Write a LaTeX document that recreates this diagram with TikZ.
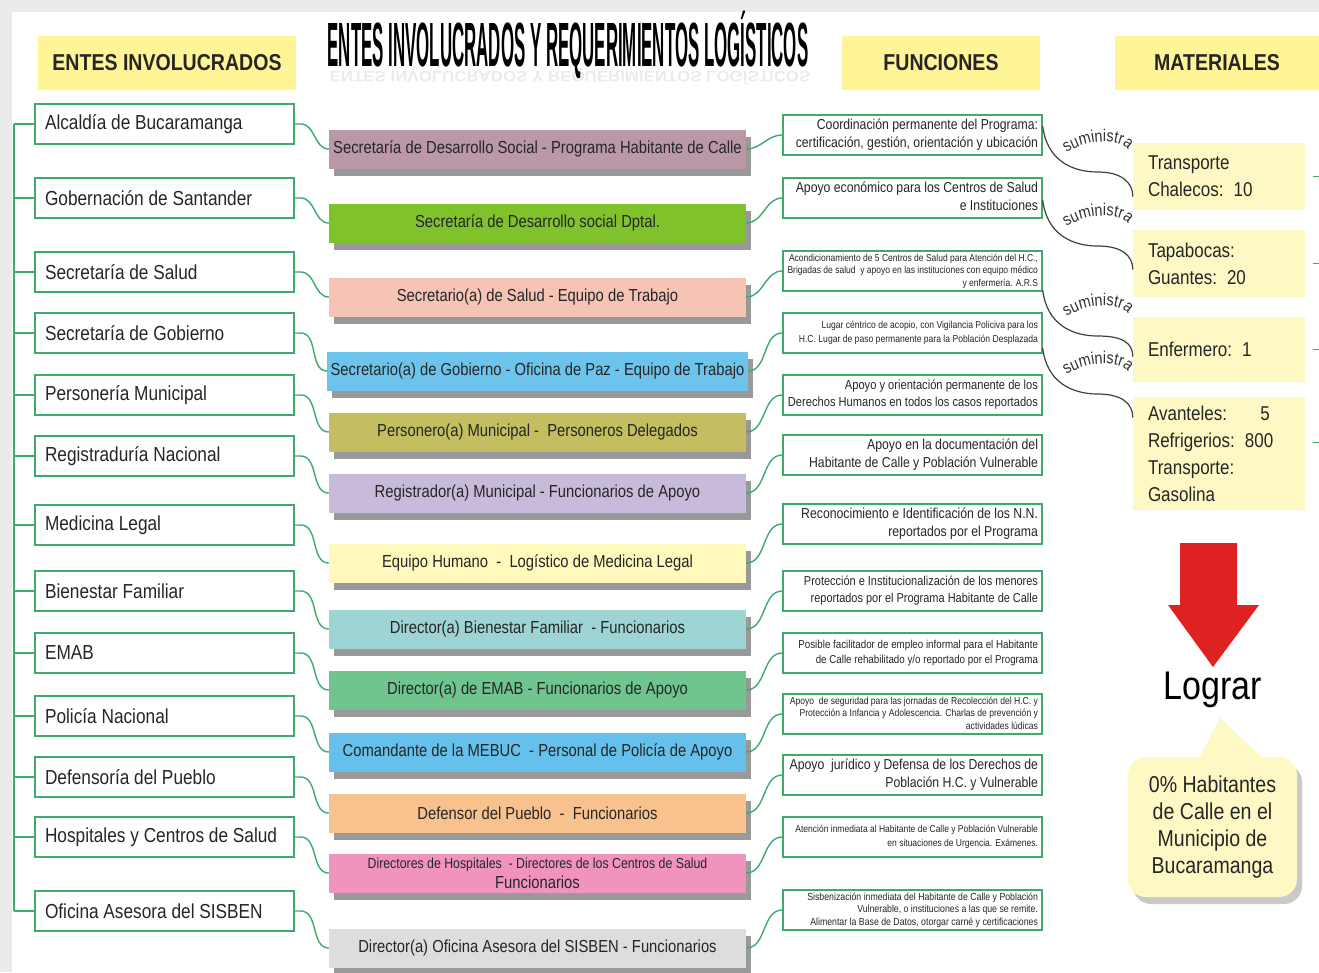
\documentclass[tikz,border=0pt]{standalone}
\usepackage{fontspec}
\setmainfont{Liberation Sans}[FakeStretch=0.85]
\usepackage{graphicx}
\usetikzlibrary{calc,shadows,decorations.text}

\definecolor{linea}{RGB}{62,170,110}
\definecolor{cabeza}{RGB}{255,244,150}
\definecolor{crema}{RGB}{254,249,196}
\definecolor{rojo}{RGB}{222,33,33}
\definecolor{malva}{RGB}{186,152,168}
\definecolor{lima}{RGB}{128,194,44}
\definecolor{salmon}{RGB}{245,196,180}
\definecolor{celeste}{RGB}{108,196,236}
\definecolor{oliva}{RGB}{196,190,96}
\definecolor{lila}{RGB}{200,186,218}
\definecolor{vainilla}{RGB}{255,250,188}
\definecolor{turquesa}{RGB}{158,212,212}
\definecolor{menta}{RGB}{112,196,142}
\definecolor{azul}{RGB}{102,192,236}
\definecolor{durazno}{RGB}{248,194,142}
\definecolor{rosa}{RGB}{240,148,190}
\definecolor{perla}{RGB}{221,221,221}

\newcommand\derecha[1]{\makebox[251pt][r]{\begin{tabular}{@{}r@{}}#1\end{tabular}}}

\begin{document}
\begin{tikzpicture}[x=1pt,y=-1pt]
\tikzset{cabecera/.style = {fill=cabeza, minimum height=54pt, font=\fontsize{23}{25}\selectfont\bfseries, text=black!85}}
\tikzset{ente/.style = {draw=linea, line width=1.4pt, fill=white, minimum height=40pt, inner xsep=10pt, font=\fontsize{20.3}{22}\selectfont, text=black!85}}
\tikzset{cargo/.style = {minimum width=417pt, minimum height=39pt, align=center, font=\fontsize{17.4}{20}\selectfont, text=black!85, drop shadow={shadow xshift=5pt, shadow yshift=-7pt, fill=black!50, opacity=.8}}}
\tikzset{funcion/.style = {draw=linea, line width=1.4pt, fill=white, minimum height=40pt, inner xsep=4pt, inner ysep=1pt, text=black!85}}
\tikzset{material/.style = {fill=crema, text width=142pt, inner xsep=15pt, align=left, font=\fontsize{20}{27}\selectfont, text=black!85}}
\tikzset{link/.style = {draw=linea, line width=1.4pt}}
\tikzset{onda/.style = {draw=black!75, line width=1.2pt}}

\useasboundingbox (0,0) rectangle (1319,972);
\fill[black!8] (0,0) rectangle (1319,972);
\fill[white] (12,12) rectangle (1319,972);

% titulo y cabeceras
\node (titulo) at (568,45) {\scalebox{0.397}[1.25]{\fontsize{50}{50}\selectfont\bfseries ENTES INVOLUCRADOS Y REQUERIMIENTOS LOGÍSTICOS}};
\node[opacity=.08] (reflejo) at (570,77) {\scalebox{0.397}[-0.3]{\fontsize{50}{50}\selectfont\bfseries ENTES INVOLUCRADOS Y REQUERIMIENTOS LOGÍSTICOS}};
\node[cabecera, minimum width=258pt] (hEntes) at (167,63) {ENTES INVOLUCRADOS};
\node[cabecera, minimum width=198pt] (hFunc) at (941,63) {FUNCIONES};
\node[cabecera, minimum width=204pt] (hMat) at (1217,63) {MATERIALES};

\coordinate (lomo) at (14,0);
\coordinate (borde) at (1319,0);

\foreach \y/\name/\txt in {124/l1/{Alcaldía de Bucaramanga}, 198/l2/{Gobernación de Santander}, 272/l3/{Secretaría de Salud}, 333/l4/{Secretaría de Gobierno}, 395/l5/{Personería Municipal}, 456/l6/{Registraduría Nacional}, 525/l7/{Medicina Legal}, 591/l8/{Bienestar Familiar}, 653/l9/{EMAB}, 716/l10/{Policía Nacional}, 777/l11/{Defensoría del Pueblo}, 837/l12/{Hospitales y Centros de Salud}, 911/l13/{Oficina Asesora del SISBEN}}
\node[ente] (\name) at (164.5,\y) {\makebox[239pt][l]{\txt}};

\foreach \y/\name/\col/\txt in {149/m1/malva/{Secretaría de Desarrollo Social - Programa Habitante de Calle}, 223/m2/lima/{Secretaría de Desarrollo social Dptal.}, 297/m3/salmon/{Secretario(a) de Salud - Equipo de Trabajo}, 371/m4/celeste/{Secretario(a) de Gobierno - Oficina de Paz - Equipo de Trabajo}, 432/m5/oliva/{Personero(a) Municipal -\ \ Personeros Delegados}, 493/m6/lila/{Registrador(a) Municipal - Funcionarios de Apoyo}, 563/m7/vainilla/{Equipo Humano\ \ -\ \ Logístico de Medicina Legal}, 629/m8/turquesa/{Director(a) Bienestar Familiar\ \ - Funcionarios}, 690/m9/menta/{Director(a) de EMAB - Funcionarios de Apoyo}, 752/m10/azul/{Comandante de la MEBUC\ \ - Personal de Policía de Apoyo}, 813/m11/durazno/{Defensor del Pueblo\ \ -\ \ Funcionarios}, 873/m12/rosa/{\fontsize{14.5}{18}\selectfont Directores de Hospitales\ \ - Directores de los Centros de Salud\\Funcionarios}, 948/m13/perla/{Director(a) Oficina Asesora del SISBEN - Funcionarios}}
\node[cargo, fill=\col] (\name) at (537.5,\y) {\txt};

\foreach \y/\name/\fs/\bs/\txt in {135/f1/14.4/18/{Coordinación permanente del Programa:\\certificación, gestión, orientación y ubicación}, 198/f2/14.4/18/{Apoyo económico para los Centros de Salud\\e Instituciones}, 271/f3/10/12.5/{Acondicionamiento de 5 Centros de Salud para Atención del H.C.,\\Brigadas de salud\ \ y apoyo en las instituciones con equipo médico\\y enfermería. A.R.S}, 333/f4/10.1/13.5/{Lugar céntrico de acopio, con Vigilancia Policiva para los\\H.C. Lugar de paso permanente para la Población Desplazada}, 395/f5/13.1/17/{Apoyo y orientación permanente de los\\Derechos Humanos en todos los casos reportados}, 455/f6/14.4/18/{Apoyo en la documentación del\\Habitante de Calle y Población Vulnerable}, 524/f7/14.4/18/{Reconocimiento e Identificación de los N.N.\\reportados por el Programa}, 591/f8/12.9/17/{Protección e Institucionalización de los menores\\reportados por el Programa Habitante de Calle}, 653/f9/11.5/15/{Posible facilitador de empleo informal para el Habitante\\de Calle rehabilitado y/o reportado por el Programa}, 714/f10/10.1/12.5/{Apoyo\ \ de seguridad para las jornadas de Recolección del H.C. y\\Protección a Infancia y Adolescencia. Charlas de prevención y\\actividades lúdicas}, 775/f11/14.4/18/{Apoyo\ \ jurídico y Defensa de los Derechos de\\Población H.C. y Vulnerable}, 837/f12/10/13.5/{Atención inmediata al Habitante de Calle y Población Vulnerable\\en situaciones de Urgencia. Exámenes.}, 910/f13/10.3/12.5/{Sisbenización inmediata del Habitante de Calle y Población\\Vulnerable, o instituciones a las que se remite.\\Alimentar la Base de Datos, otorgar carné y certificaciones}}
\node[funcion, font=\fontsize{\fs}{\bs}\selectfont] (\name) at (912.5,\y) {\derecha{\txt}};

% materiales
\node[material, minimum height=67pt] (mat1) at (1219,176.5) {Transporte\\Chalecos: 10};
\node[material, minimum height=67pt] (mat2) at (1219,263.5) {Tapabocas:\\Guantes: 20};
\node[material, minimum height=65pt] (mat3) at (1219,349.5) {Enfermero: 1};
\node[material, minimum height=113pt] (mat4) at (1219,453.5) {Avanteles:\quad\ \ 5\\Refrigerios: 800\\Transporte:\\Gasolina};

% conectores
\draw[link] (l1.west -| lomo) -- (l13.west -| lomo);
\foreach \i in {1,...,13}{
\draw[link] (l\i.west) -- (l\i.west -| lomo);
\draw[link] (l\i.east) -- ++(6,0) to[out=0,in=180] (m\i.west);
\draw[link] (m\i.east) to[out=0,in=180] (f\i.west);
}
\foreach \m/\dy in {mat1/0, mat2/0, mat3/0, mat4/11}
\draw[link] ([xshift=8pt,yshift=\dy pt]\m.east) -- ([yshift=\dy pt]\m.east -| borde);

\foreach \f/\fy/\m/\my in {f1/9/mat1/-20, f2/-2/mat2/-6, f3/-19/mat3/-7, f4/-15/mat4/36}{
\path ([yshift=\fy pt]\f.east) coordinate (a) ([yshift=\my pt]\m.west) coordinate (b);
\draw[onda] (a) .. controls +(4,34) and +(-26,0) .. ($(a)+(55,46)$) .. controls +(24,0) and +(0,-14) .. (b);
\path[decorate, decoration={text along path, text align=left, text color=black!80, text={|\fontsize{17}{17}\selectfont|suministra}}] ($(a)+(24,27)$) .. controls +(16,-12) and +(-14,-6) .. ($(a)+(80,19)$) .. controls +(6,3) and +(-2,-8) .. ($(a)+(94,40)$);
}

% lograr
\fill[rojo] (1180,543) -- (1237,543) -- (1237,605) -- (1259,605) -- (1213,667) -- (1168,605) -- (1180,605) -- cycle;
\node (lograr) at (1213,690) {\fontsize{40}{40}\selectfont Lograr};
\coordinate (punta) at (1220,718);
\node[fill=crema, rounded corners=18pt, minimum width=169pt, minimum height=140pt, align=center, font=\fontsize{23}{27}\selectfont, text=black!85, drop shadow={shadow xshift=5pt, shadow yshift=-7pt, fill=black!35, opacity=.6}] (meta) at (1212.5,827) {0\% Habitantes\\de Calle en el\\Municipio de\\Bucaramanga};
\fill[crema] ([xshift=-16pt,yshift=-6pt]meta.north) -- (punta) -- ([xshift=55pt,yshift=-6pt]meta.north) -- cycle;
\end{tikzpicture}
\end{document}
